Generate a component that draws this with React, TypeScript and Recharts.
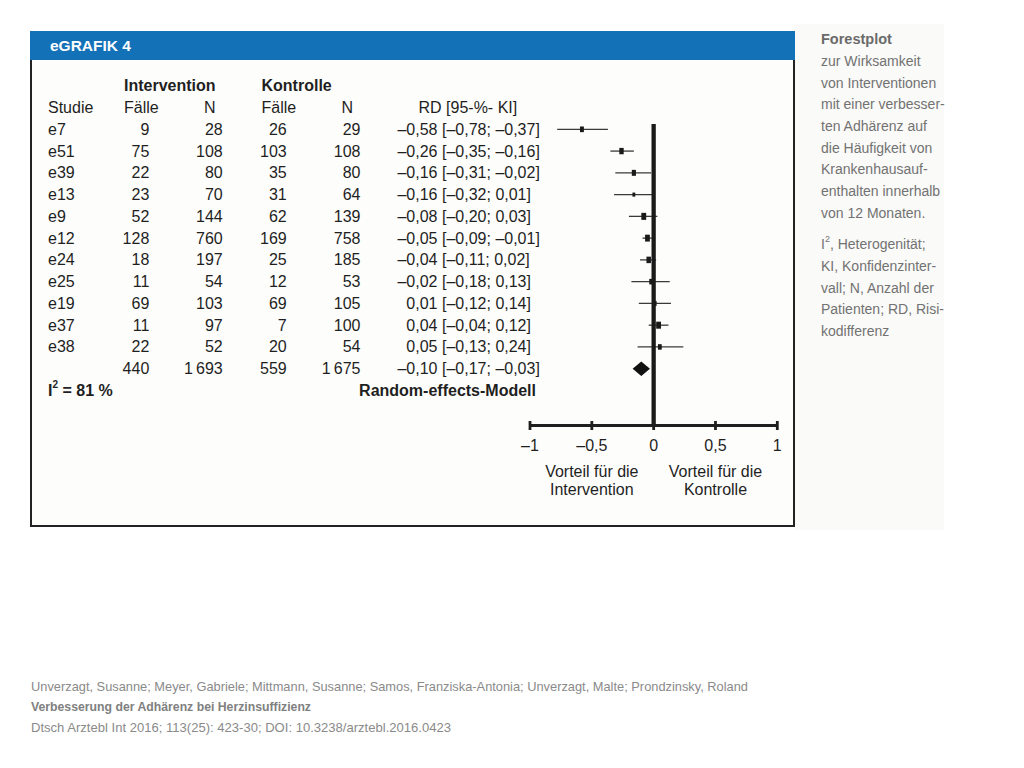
import React from 'react';
import { ScatterChart, Scatter, XAxis, YAxis, ReferenceLine, ReferenceArea } from 'recharts';

// ---------- data ----------
const studies = ['e7', 'e51', 'e39', 'e13', 'e9', 'e12', 'e24', 'e25', 'e19', 'e37', 'e38'];
const interventionCases = [9, 75, 22, 23, 52, 128, 18, 11, 69, 11, 22];
const interventionN = [28, 108, 80, 70, 144, 760, 197, 54, 103, 97, 52];
const controlCases = [26, 103, 35, 31, 62, 169, 25, 12, 69, 7, 20];
const controlN = [29, 108, 80, 64, 139, 758, 185, 53, 105, 100, 54];
const riskDiff = [-0.58, -0.26, -0.16, -0.16, -0.08, -0.05, -0.04, -0.02, 0.01, 0.04, 0.05];
const ciLow = [-0.78, -0.35, -0.31, -0.32, -0.2, -0.09, -0.11, -0.18, -0.12, -0.04, -0.13];
const ciHigh = [-0.37, -0.16, -0.02, 0.01, 0.03, -0.01, 0.02, 0.13, 0.14, 0.12, 0.24];
// estimated study weights (%), drawn as marker area
const studyWeight = [8.0, 10.1, 8.9, 4.2, 12.3, 11.9, 10.5, 7.8, 6.3, 12.3, 7.6];

const totalLabels = ['440', '1\u2009693', '559', '1\u2009675'];
const pooled = { rd: -0.1, low: -0.17, high: -0.03 };
const heterogeneityI2 = 81;
const xTicks = [-1, -0.5, 0, 0.5, 1];
const favourLabels = [
  { at: -0.5, lines: ['Vorteil für die', 'Intervention'] },
  { at: 0.5, lines: ['Vorteil für die', 'Kontrolle'] },
];
const sideTitle = 'Forestplot';
const sideLines1 = [
  'zur Wirksamkeit',
  'von Interventionen',
  'mit einer verbesser-',
  'ten Adhärenz auf',
  'die Häufigkeit von',
  'Krankenhausauf-',
  'enthalten innerhalb',
  'von 12 Monaten.',
];
const sideLines2 = ['KI, Konfidenzinter-', 'vall; N, Anzahl der', 'Patienten; RD, Risi-', 'kodifferenz'];
const citation = [
  'Unverzagt, Susanne; Meyer, Gabriele; Mittmann, Susanne; Samos, Franziska-Antonia; Unverzagt, Malte; Prondzinsky, Roland',
  'Verbesserung der Adhärenz bei Herzinsuffizienz',
  'Dtsch Arztebl Int 2016; 113(25): 423-30; DOI: 10.3238/arztebl.2016.0423',
];

// ---------- helpers ----------
const FONT = '"Liberation Sans", Arial, Helvetica, sans-serif';
const INK = '#1f1f1f';
const fmt = (v: number) => (v < 0 ? '–' : '') + Math.abs(v).toFixed(2).replace('.', ',');
const fmtTick = (v: number) => (v < 0 ? '–' : '') + String(Math.abs(v)).replace('.', ',');

const points = studies.map((s, i) => ({ rd: riskDiff[i], row: i, weight: studyWeight[i] }));
const rowTicks = [-2, -1, ...studies.map((_, i) => i), studies.length, studies.length + 1];
const TOTAL_ROW = studies.length;

const txt = {
  fontFamily: FONT,
  fontSize: 16,
  fill: INK,
  dominantBaseline: 'central' as const,
};

function TableTick(props: any) {
  const { y, payload } = props;
  const r = payload.value as number;
  if (r === -2) {
    return (
      <g>
        <text x={124} y={y} {...txt} fontWeight="bold">Intervention</text>
        <text x={261.5} y={y} {...txt} fontWeight="bold">Kontrolle</text>
      </g>
    );
  }
  if (r === -1) {
    return (
      <g>
        <text x={48} y={y} {...txt}>Studie</text>
        <text x={124} y={y} {...txt}>Fälle</text>
        <text x={215.5} y={y} {...txt} textAnchor="end">N</text>
        <text x={261.5} y={y} {...txt}>Fälle</text>
        <text x={353} y={y} {...txt} textAnchor="end">N</text>
        <text x={418.5} y={y} {...txt}>RD [95-%- KI]</text>
      </g>
    );
  }
  if (r >= 0 && r < studies.length) {
    return (
      <g>
        <text x={48} y={y} {...txt}>{studies[r]}</text>
        <text x={149.3} y={y} {...txt} textAnchor="end">{interventionCases[r]}</text>
        <text x={222.7} y={y} {...txt} textAnchor="end">{interventionN[r]}</text>
        <text x={286.7} y={y} {...txt} textAnchor="end">{controlCases[r]}</text>
        <text x={360.5} y={y} {...txt} textAnchor="end">{controlN[r]}</text>
        <text x={437.5} y={y} {...txt} textAnchor="end">{fmt(riskDiff[r])}</text>
        <text x={442} y={y} {...txt}>{`[${fmt(ciLow[r])}; ${fmt(ciHigh[r])}]`}</text>
      </g>
    );
  }
  if (r === TOTAL_ROW) {
    return (
      <g>
        <text x={149.3} y={y} {...txt} textAnchor="end">{totalLabels[0]}</text>
        <text x={222.7} y={y} {...txt} textAnchor="end">{totalLabels[1]}</text>
        <text x={286.7} y={y} {...txt} textAnchor="end">{totalLabels[2]}</text>
        <text x={360.5} y={y} {...txt} textAnchor="end">{totalLabels[3]}</text>
        <text x={437.5} y={y} {...txt} textAnchor="end">{fmt(pooled.rd)}</text>
        <text x={442} y={y} {...txt}>{`[${fmt(pooled.low)}; ${fmt(pooled.high)}]`}</text>
      </g>
    );
  }
  return (
    <g>
      <text x={48} y={y} {...txt} fontWeight="bold">
        I<tspan dy={-6} fontSize={10}>2</tspan>
        <tspan dy={6}>{` = ${heterogeneityI2} %`}</tspan>
      </text>
      <text x={536} y={y} {...txt} fontWeight="bold" textAnchor="end">Random-effects-Modell</text>
    </g>
  );
}

function AxisTick(props: any) {
  const { x, y, payload } = props;
  const v = payload.value as number;
  const fav = favourLabels.find((f) => f.at === v);
  return (
    <g>
      <line x1={x} x2={x} y1={y - 4.5} y2={y + 4.5} stroke={INK} strokeWidth={2.8} />
      <text x={x} y={y + 19.5} {...txt} textAnchor="middle">{fmtTick(v)}</text>
      {fav && (
        <text {...txt} textAnchor="middle">
          <tspan x={x} y={y + 45}>{fav.lines[0]}</tspan>
          <tspan x={x} y={y + 63.5}>{fav.lines[1]}</tspan>
        </text>
      )}
    </g>
  );
}

function StudyMarker(props: any) {
  const { cx, cy, payload } = props;
  const area = payload.weight * 2.76;
  const h = Math.sqrt(area * 1.45);
  const w = area / h;
  return <rect x={cx - w / 2} y={cy - h / 2} width={w} height={h} fill="#1a1a1a" />;
}

function Diamond(props: any) {
  const { x, y, width, height } = props;
  const cx = x + width / 2;
  const cy = y + height / 2;
  return (
    <polygon
      points={`${x},${cy} ${cx},${y} ${x + width},${cy} ${cx},${y + height}`}
      fill="#111"
    />
  );
}

export default function App() {
  return (
    <div style={{ position: 'absolute', left: 0, top: 0, width: 1024, height: 768, background: '#ffffff', overflow: 'hidden' }}>
      {/* side panel background */}
      <div style={{ position: 'absolute', left: 794, top: 24, width: 150, height: 506, background: '#fafaf8' }} />
      {/* frame */}
      <div
        style={{
          position: 'absolute',
          left: 30,
          top: 31,
          width: 765,
          height: 496,
          boxSizing: 'border-box',
          border: '2px solid #222',
          background: '#fdfdfb',
        }}
      />
      <div style={{ position: 'absolute', left: 30, top: 31, width: 765, height: 29, background: '#1371b8' }} />
      <div
        style={{
          position: 'absolute',
          left: 50,
          top: 36,
          fontFamily: FONT,
          fontWeight: 'bold',
          fontSize: 15.5,
          color: '#ffffff',
          lineHeight: '20px',
        }}
      >
        eGRAFIK 4
      </div>

      {/* side texts + citation */}
      <svg width={1024} height={768} style={{ position: 'absolute', left: 0, top: 0 }}>
        <text x={821} y={39} fontFamily={FONT} fontSize={14.5} fontWeight="bold" fill="#6a6a6a" dominantBaseline="central">
          {sideTitle}
        </text>
        {sideLines1.map((l, i) => (
          <text key={l} x={821} y={61 + i * 21.65} fontFamily={FONT} fontSize={14} fill="#727272" dominantBaseline="central">
            {l}
          </text>
        ))}
        <text x={821} y={244.3} fontFamily={FONT} fontSize={14} fill="#727272" dominantBaseline="central">
          I<tspan dy={-5} fontSize={9}>2</tspan>
          <tspan dy={5}>, Heterogenität;</tspan>
        </text>
        {sideLines2.map((l, i) => (
          <text key={l} x={821} y={266 + i * 21.65} fontFamily={FONT} fontSize={14} fill="#727272" dominantBaseline="central">
            {l}
          </text>
        ))}
        <text x={31} y={686} fontFamily={FONT} fontSize={12.8} fill="#8a8a8a" dominantBaseline="central" textLength={717} lengthAdjust="spacingAndGlyphs">
          {citation[0]}
        </text>
        <text x={31} y={706} fontFamily={FONT} fontSize={12.8} fontWeight="bold" fill="#808080" dominantBaseline="central" textLength={280} lengthAdjust="spacingAndGlyphs">
          {citation[1]}
        </text>
        <text x={31} y={727} fontFamily={FONT} fontSize={12.8} fill="#8a8a8a" dominantBaseline="central" textLength={420} lengthAdjust="spacingAndGlyphs">
          {citation[2]}
        </text>
      </svg>

      <div style={{ position: 'absolute', left: 0, top: 0 }}>
        <ScatterChart
          width={1024}
          height={768}
          margin={{ top: 85.8, right: 246.7, bottom: 302.5, left: 528 }}
          style={{ background: 'transparent' }}
        >
          <XAxis
            type="number"
            dataKey="rd"
            domain={[-1, 1]}
            ticks={xTicks}
            interval={0}
            height={40}
            tickSize={0}
            tickMargin={0}
            tickLine={false}
            axisLine={{ stroke: INK, strokeWidth: 3 }}
            tick={<AxisTick />}
            allowDataOverflow
          />
          <YAxis
            type="number"
            dataKey="row"
            domain={[-2, 13.61]}
            reversed
            ticks={rowTicks}
            interval={0}
            width={2}
            tickLine={false}
            axisLine={false}
            tick={<TableTick />}
            allowDataOverflow
          />
          {studies.map((s, i) => (
            <ReferenceLine
              key={s}
              segment={[
                { x: ciLow[i], y: i },
                { x: ciHigh[i], y: i },
              ]}
              stroke="#3a3a3a"
              strokeWidth={1.3}
              ifOverflow="visible"
            />
          ))}
          <ReferenceLine
            segment={[
              { x: 0, y: -0.24 },
              { x: 0, y: 13.61 },
            ]}
            stroke="#1a1a1a"
            strokeWidth={4.3}
            ifOverflow="visible"
          />
          <ReferenceArea
            x1={pooled.low}
            x2={pooled.high}
            y1={TOTAL_ROW - 0.335}
            y2={TOTAL_ROW + 0.335}
            shape={(p: any) => <Diamond {...p} />}
            ifOverflow="visible"
          />
          <Scatter data={points} shape={(p: any) => <StudyMarker {...p} />} isAnimationActive={false} />
        </ScatterChart>
      </div>
    </div>
  );
}
